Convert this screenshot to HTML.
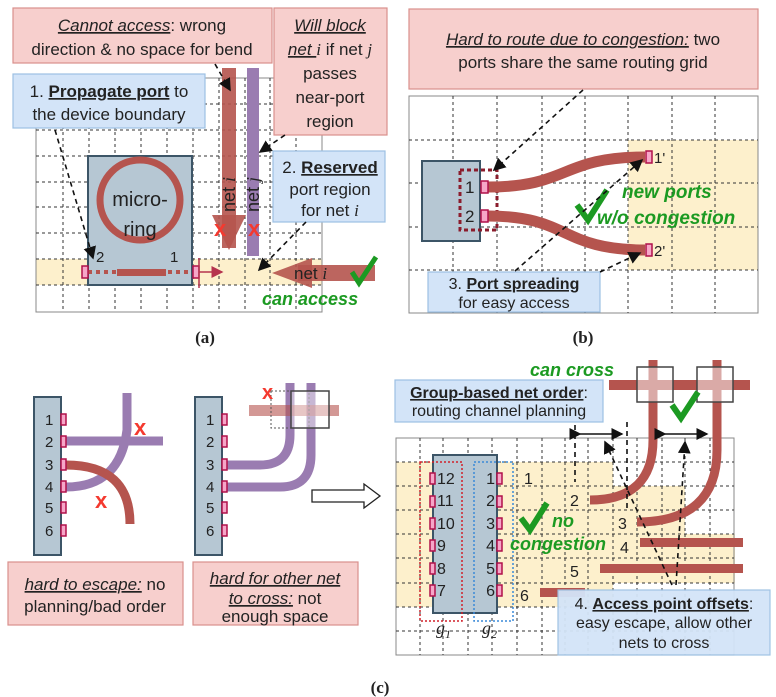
<!DOCTYPE html>
<html><head><meta charset="utf-8"><style>
html,body{margin:0;padding:0;background:#fff}
svg{display:block}
text{font-family:"Liberation Sans",sans-serif;fill:#222}
.s{font-family:"Liberation Serif",serif}
.g{stroke:#333;stroke-width:1;stroke-dasharray:3 3}
.pk{fill:#f7cfcd;stroke:#d9908c;stroke-width:1.2}
.bl{fill:#d3e4f8;stroke:#9cc0e3;stroke-width:1.2}
.dev{fill:#b6c7d3;stroke:#3c5567;stroke-width:2}
.port{fill:#f6a6c8;stroke:#b0104a;stroke-width:1.5}
.w{stroke:#b5544e;fill:none}
.p{stroke:#9a7cb1;fill:none}
.gr{fill:#1c9a22;font-weight:bold;font-style:italic}
.x{fill:#f4392f;font-weight:bold}
.ar{stroke:#111;stroke-width:1.6;stroke-dasharray:5 4;fill:none}
</style></head><body>
<svg width="776" height="697" viewBox="0 0 776 697">
<defs>
<marker id="ah" markerWidth="8" markerHeight="8" refX="7" refY="4" orient="auto"><path d="M0,0 L8,4 L0,8 z" fill="#111"/></marker>
<marker id="ar" markerWidth="8" markerHeight="8" refX="7" refY="4" orient="auto"><path d="M0,0 L8,4 L0,8 z" fill="#b5344e"/></marker>
</defs>

<!-- Panel (a) -->
<g>
<rect x="36" y="259" width="286" height="26" fill="#fdf0cc"/>
<rect x="36" y="78" width="286" height="234" fill="none" stroke="#888"/>
<g class="g">
<line x1="63" y1="78" x2="63" y2="312"/><line x1="89" y1="78" x2="89" y2="312"/><line x1="115" y1="78" x2="115" y2="312"/><line x1="141" y1="78" x2="141" y2="312"/><line x1="167" y1="78" x2="167" y2="312"/><line x1="193" y1="78" x2="193" y2="312"/><line x1="219" y1="78" x2="219" y2="312"/><line x1="245" y1="78" x2="245" y2="312"/><line x1="270" y1="78" x2="270" y2="312"/><line x1="296" y1="78" x2="296" y2="312"/>
<line x1="36" y1="104" x2="322" y2="104"/><line x1="36" y1="130" x2="322" y2="130"/><line x1="36" y1="156" x2="322" y2="156"/><line x1="36" y1="182" x2="322" y2="182"/><line x1="36" y1="207" x2="322" y2="207"/><line x1="36" y1="233" x2="322" y2="233"/><line x1="36" y1="259" x2="322" y2="259"/><line x1="36" y1="285" x2="322" y2="285"/>
</g>
<rect class="dev" x="88" y="156" width="104" height="129"/>
<circle cx="140" cy="200" r="40" fill="none" stroke="#b5544e" stroke-width="7"/>
<text x="140" y="206" font-size="20" text-anchor="middle">micro-</text>
<text x="140" y="236" font-size="20" text-anchor="middle">ring</text>
<line x1="88" y1="272" x2="192" y2="272" stroke="#b5544e" stroke-width="4" stroke-dasharray="4 4"/>
<rect x="117" y="269" width="49" height="7" fill="#b5544e"/>
<rect class="port" x="82" y="266" width="6" height="12"/><rect class="port" x="193" y="266" width="6" height="12"/>
<text x="96" y="262" font-size="15">2</text><text x="170" y="262" font-size="15">1</text>
<line x1="199" y1="258" x2="199" y2="288" stroke="#b5344e" stroke-width="1.5"/>
<line x1="199" y1="272" x2="222" y2="272" stroke="#b5344e" stroke-width="1.5" marker-end="url(#ar)"/>
<rect x="222" y="68" width="14" height="180" fill="#b5544e" opacity="0.9"/>
<path d="M212,215 L246,215 L229,250 z" fill="#b5544e" opacity="0.9"/>
<rect x="247" y="68" width="12" height="188" fill="#9a7cb1"/>
<text transform="translate(235,212) rotate(-90)" font-size="18" fill="#222">net <tspan class="s" font-style="italic">i</tspan></text>
<text transform="translate(259,212) rotate(-90)" font-size="18">net <tspan class="s" font-style="italic">j</tspan></text>
<text class="x" x="214" y="236" font-size="22">x</text><text class="x" x="248" y="236" font-size="22">x</text>
<rect x="298" y="265" width="77" height="16" fill="#b5544e" opacity="0.9"/>
<path d="M272,273 L312,258 L312,288 z" fill="#b5544e" opacity="0.9"/>
<text x="294" y="279" font-size="17">net <tspan class="s" font-style="italic">i</tspan></text>
<path d="M352,272 L359,283 L376,257" stroke="#1c9a22" stroke-width="5" fill="none"/>
<text class="gr" x="262" y="305" font-size="18">can access</text>
<rect class="pk" x="13" y="8" width="259" height="55"/>
<text x="142" y="31" font-size="17" text-anchor="middle"><tspan font-style="italic" text-decoration="underline">Cannot access</tspan>: wrong</text>
<text x="142" y="55" font-size="17" text-anchor="middle">direction &amp; no space for bend</text>
<rect class="pk" x="274" y="8" width="113" height="127"/>
<text x="330" y="31" font-size="17" text-anchor="middle"><tspan font-style="italic" text-decoration="underline">Will block</tspan></text>
<text x="330" y="55" font-size="17" text-anchor="middle"><tspan font-style="italic" text-decoration="underline">net </tspan><tspan class="s" font-style="italic">i</tspan> if net <tspan class="s" font-style="italic">j</tspan></text>
<text x="330" y="79" font-size="17" text-anchor="middle">passes</text>
<text x="330" y="103" font-size="17" text-anchor="middle">near-port</text>
<text x="330" y="127" font-size="17" text-anchor="middle">region</text>
<rect class="bl" x="13" y="74" width="192" height="54"/>
<text x="109" y="97" font-size="17" text-anchor="middle">1. <tspan font-weight="bold" text-decoration="underline">Propagate port</tspan> to</text>
<text x="109" y="120" font-size="17" text-anchor="middle">the device boundary</text>
<rect class="bl" x="273" y="151" width="112" height="71"/>
<text x="330" y="173" font-size="17" text-anchor="middle">2. <tspan font-weight="bold" text-decoration="underline">Reserved</tspan></text>
<text x="330" y="195" font-size="17" text-anchor="middle">port region</text>
<text x="330" y="216" font-size="17" text-anchor="middle">for net <tspan class="s" font-style="italic">i</tspan></text>
<path class="ar" d="M55,130 L93,258" marker-end="url(#ah)"/>
<path class="ar" d="M215,64 L230,90" marker-end="url(#ah)"/>
<path class="ar" d="M285,135 L260,152" marker-end="url(#ah)"/>
<path class="ar" d="M306,222 L259,270" marker-end="url(#ah)"/>
<text class="s" x="205" y="343" font-size="17" font-weight="bold" text-anchor="middle">(a)</text>
</g>

<!-- Panel (b) -->
<g>
<rect x="628" y="140" width="130" height="130" fill="#fdf0cc"/>
<rect x="409" y="96" width="349" height="217" fill="none" stroke="#888"/>
<g class="g">
<line x1="453" y1="96" x2="453" y2="313"/><line x1="497" y1="96" x2="497" y2="313"/><line x1="542" y1="96" x2="542" y2="313"/><line x1="585" y1="96" x2="585" y2="313"/><line x1="628" y1="96" x2="628" y2="313"/><line x1="672" y1="96" x2="672" y2="313"/><line x1="715" y1="96" x2="715" y2="313"/>
<line x1="409" y1="140" x2="758" y2="140"/><line x1="409" y1="183" x2="758" y2="183"/><line x1="409" y1="227" x2="758" y2="227"/><line x1="409" y1="270" x2="758" y2="270"/>
</g>
<rect class="dev" x="422" y="161" width="58" height="80"/>
<rect x="460" y="170" width="37" height="60" fill="none" stroke="#8b1c2c" stroke-width="3" stroke-dasharray="4 3"/>
<text x="465" y="193" font-size="17">1</text><text x="465" y="222" font-size="17">2</text>
<path class="w" stroke-width="11" d="M488,187 C570,187 560,157 645,157"/>
<path class="w" stroke-width="11" d="M488,216 C570,216 560,250 645,250"/>
<rect class="port" x="481" y="181" width="7" height="12"/><rect class="port" x="481" y="210" width="7" height="12"/>
<rect class="port" x="646" y="151" width="6" height="12"/><rect class="port" x="646" y="244" width="6" height="12"/>
<text x="654" y="163" font-size="15">1'</text><text x="654" y="256" font-size="15">2'</text>
<path d="M577,205 L588,220 L607,190" stroke="#1c9a22" stroke-width="6" fill="none"/>
<text class="gr" x="622" y="198" font-size="19">new ports</text>
<text class="gr" x="597" y="224" font-size="19">w/o congestion</text>
<rect class="pk" x="409" y="9" width="349" height="80"/>
<text x="583" y="45" font-size="17" text-anchor="middle"><tspan font-style="italic" text-decoration="underline">Hard to route due to congestion:</tspan> two</text>
<text x="583" y="68" font-size="17" text-anchor="middle">ports share the same routing grid</text>
<rect class="bl" x="428" y="272" width="172" height="40"/>
<text x="514" y="289" font-size="16" text-anchor="middle">3. <tspan font-weight="bold" text-decoration="underline">Port spreading</tspan></text>
<text x="514" y="308" font-size="16" text-anchor="middle">for easy access</text>
<path class="ar" d="M583,90 L494,170" marker-end="url(#ah)"/>
<path class="ar" d="M515,271 L642,160" marker-end="url(#ah)"/>
<path class="ar" d="M600,272 L640,253" marker-end="url(#ah)"/>
<text class="s" x="583" y="343" font-size="17" font-weight="bold" text-anchor="middle">(b)</text>
</g>

<!-- Panel (c) left -->
<g>
<rect class="dev" x="34" y="397" width="27" height="158"/>
<g font-size="15"><text x="45" y="425">1</text><text x="45" y="447">2</text><text x="45" y="470">3</text><text x="45" y="492">4</text><text x="45" y="513">5</text><text x="45" y="536">6</text></g>
<path class="p" stroke-width="9" d="M66,441 L163,441"/>
<path class="p" stroke-width="9" d="M127,393 L127,430 Q120,487 66,487"/>
<path class="w" stroke-width="9" d="M66,465 Q130,465 130,524"/>
<g><rect class="port" x="61" y="414" width="5" height="11"/><rect class="port" x="61" y="436" width="5" height="11"/><rect class="port" x="61" y="459" width="5" height="11"/><rect class="port" x="61" y="481" width="5" height="11"/><rect class="port" x="61" y="502" width="5" height="11"/><rect class="port" x="61" y="525" width="5" height="11"/></g>
<text class="x" x="134" y="435" font-size="22">x</text><text class="x" x="95" y="508" font-size="22">x</text>
<rect class="dev" x="195" y="397" width="27" height="158"/>
<g font-size="15"><text x="206" y="425">1</text><text x="206" y="447">2</text><text x="206" y="470">3</text><text x="206" y="492">4</text><text x="206" y="513">5</text><text x="206" y="536">6</text></g>
<path class="p" stroke-width="9" d="M227,465 L260,465 Q290,465 290,435 L290,383"/>
<path class="p" stroke-width="9" d="M227,487 L280,487 Q311,487 311,455 L311,383"/>
<rect x="249" y="405" width="90" height="11" fill="#b5544e" opacity="0.6"/>
<rect x="271" y="391" width="38" height="37" fill="none" stroke="#555" stroke-dasharray="2 2"/>
<rect x="291" y="391" width="38" height="37" fill="rgba(255,255,255,0.45)" stroke="#444" stroke-width="1.5"/>
<g><rect class="port" x="222" y="414" width="5" height="11"/><rect class="port" x="222" y="436" width="5" height="11"/><rect class="port" x="222" y="459" width="5" height="11"/><rect class="port" x="222" y="481" width="5" height="11"/><rect class="port" x="222" y="502" width="5" height="11"/><rect class="port" x="222" y="525" width="5" height="11"/></g>
<text class="x" x="262" y="399" font-size="20">x</text>
<rect class="pk" x="8" y="562" width="175" height="63"/>
<text x="95" y="590" font-size="17" text-anchor="middle"><tspan font-style="italic" text-decoration="underline">hard to escape:</tspan> no</text>
<text x="95" y="612" font-size="17" text-anchor="middle">planning/bad order</text>
<rect class="pk" x="193" y="562" width="165" height="63"/>
<text x="275" y="584" font-size="17" text-anchor="middle"><tspan font-style="italic" text-decoration="underline">hard for other net</tspan></text>
<text x="275" y="604" font-size="17" text-anchor="middle"><tspan font-style="italic" text-decoration="underline">to cross:</tspan> not</text>
<text x="275" y="622" font-size="17" text-anchor="middle">enough space</text>
<path d="M312,490 L364,490 L364,484 L380,496 L364,508 L364,502 L312,502 z" fill="#fff" stroke="#222" stroke-width="1.3"/>
</g>

<!-- Panel (c) right -->
<g>
<rect x="396" y="462" width="217" height="145" fill="#fdf0cc"/>
<rect x="613" y="486" width="72" height="48" fill="#fdf0cc"/>
<rect x="613" y="534" width="122" height="49" fill="#fdf0cc"/>
<rect x="396" y="438" width="338" height="217" fill="none" stroke="#888"/>
<g class="g">
<line x1="420" y1="438" x2="420" y2="655"/><line x1="443" y1="438" x2="443" y2="655"/><line x1="468" y1="438" x2="468" y2="655"/><line x1="492" y1="438" x2="492" y2="655"/><line x1="517" y1="438" x2="517" y2="655"/><line x1="542" y1="438" x2="542" y2="655"/><line x1="565" y1="438" x2="565" y2="655"/><line x1="588" y1="438" x2="588" y2="655"/><line x1="613" y1="438" x2="613" y2="655"/><line x1="637" y1="438" x2="637" y2="655"/><line x1="662" y1="438" x2="662" y2="655"/><line x1="685" y1="438" x2="685" y2="655"/><line x1="710" y1="438" x2="710" y2="655"/>
<line x1="396" y1="462" x2="734" y2="462"/><line x1="396" y1="486" x2="734" y2="486"/><line x1="396" y1="510" x2="734" y2="510"/><line x1="396" y1="534" x2="734" y2="534"/><line x1="396" y1="558" x2="734" y2="558"/><line x1="396" y1="583" x2="734" y2="583"/><line x1="396" y1="607" x2="734" y2="607"/><line x1="396" y1="631" x2="734" y2="631"/>
</g>
<rect class="dev" x="433" y="455" width="64" height="158"/>
<rect x="420" y="462" width="42" height="159" fill="none" stroke="#d0202a" stroke-width="1.5" stroke-dasharray="2 2"/>
<rect x="474" y="462" width="39" height="159" fill="none" stroke="#3a8ad8" stroke-width="1.5" stroke-dasharray="2 2"/>
<g font-size="16"><text x="437" y="484">12</text><text x="437" y="506">11</text><text x="437" y="529">10</text><text x="437" y="551">9</text><text x="437" y="574">8</text><text x="437" y="596">7</text></g>
<g font-size="16" text-anchor="end"><text x="495" y="484">1</text><text x="495" y="506">2</text><text x="495" y="529">3</text><text x="495" y="551">4</text><text x="495" y="574">5</text><text x="495" y="596">6</text></g>
<g><rect class="port" x="430" y="473" width="5" height="11"/><rect class="port" x="430" y="496" width="5" height="11"/><rect class="port" x="430" y="518" width="5" height="11"/><rect class="port" x="430" y="540" width="5" height="11"/><rect class="port" x="430" y="563" width="5" height="11"/><rect class="port" x="430" y="585" width="5" height="11"/>
<rect class="port" x="497" y="473" width="5" height="11"/><rect class="port" x="497" y="496" width="5" height="11"/><rect class="port" x="497" y="518" width="5" height="11"/><rect class="port" x="497" y="540" width="5" height="11"/><rect class="port" x="497" y="563" width="5" height="11"/><rect class="port" x="497" y="585" width="5" height="11"/></g>
<text class="s" x="436" y="634" font-size="18" font-style="italic">g<tspan font-size="12" dy="4">1</tspan></text>
<text class="s" x="482" y="634" font-size="18" font-style="italic">g<tspan font-size="12" dy="4">2</tspan></text>
<g font-size="16"><text x="524" y="484">1</text><text x="570" y="506">2</text><text x="618" y="529">3</text><text x="620" y="553">4</text><text x="570" y="577">5</text><text x="520" y="601">6</text></g>
<path class="w" stroke-width="9" d="M590,500 Q653,500 653,440 L653,360"/>
<path class="w" stroke-width="9" d="M637,522 Q717,522 717,450 L717,360"/>
<rect x="640" y="538" width="103" height="9" fill="#b5544e"/>
<rect x="600" y="564" width="143" height="9" fill="#b5544e"/>
<rect x="540" y="588" width="45" height="9" fill="#b5544e"/>
<rect x="609" y="380" width="141" height="10" fill="#b5544e"/>
<rect x="637" y="367" width="36" height="35" fill="rgba(255,255,255,0.5)" stroke="#444" stroke-width="1.5"/>
<rect x="697" y="367" width="36" height="35" fill="rgba(255,255,255,0.5)" stroke="#444" stroke-width="1.5"/>
<text class="gr" x="530" y="376" font-size="18">can cross</text>
<path d="M672,405 L681,418 L698,392" stroke="#1c9a22" stroke-width="6" fill="none"/>
<path d="M521,518 L530,530 L547,503" stroke="#1c9a22" stroke-width="6" fill="none"/>
<text class="gr" x="552" y="527" font-size="18">no</text>
<text class="gr" x="510" y="550" font-size="18">congestion</text>
<line x1="575" y1="425" x2="575" y2="482" class="ar" stroke-width="2"/>
<line x1="627" y1="422" x2="627" y2="510" class="ar" stroke-width="2"/>
<line x1="580" y1="434" x2="622" y2="434" stroke="#111" stroke-width="1.5" marker-end="url(#ah)" marker-start="url(#ah)"/>
<line x1="665" y1="434" x2="707" y2="434" stroke="#111" stroke-width="1.5" marker-end="url(#ah)" marker-start="url(#ah)"/>
<path class="ar" d="M672,585 L605,442" marker-end="url(#ah)"/>
<path class="ar" d="M676,585 L685,442" marker-end="url(#ah)"/>
<rect class="bl" x="395" y="380" width="208" height="42"/>
<text x="499" y="398" font-size="16" text-anchor="middle"><tspan font-weight="bold" text-decoration="underline">Group-based net order</tspan>:</text>
<text x="499" y="416" font-size="16" text-anchor="middle">routing channel planning</text>
<rect class="bl" x="558" y="590" width="212" height="65" opacity="0.95"/>
<text x="664" y="609" font-size="16" text-anchor="middle">4. <tspan font-weight="bold" text-decoration="underline">Access point offsets</tspan>:</text>
<text x="664" y="628" font-size="16" text-anchor="middle">easy escape, allow other</text>
<text x="664" y="648" font-size="16" text-anchor="middle">nets to cross</text>
<text class="s" x="380" y="693" font-size="17" font-weight="bold" text-anchor="middle">(c)</text>
</g>
</svg>
</body></html>
